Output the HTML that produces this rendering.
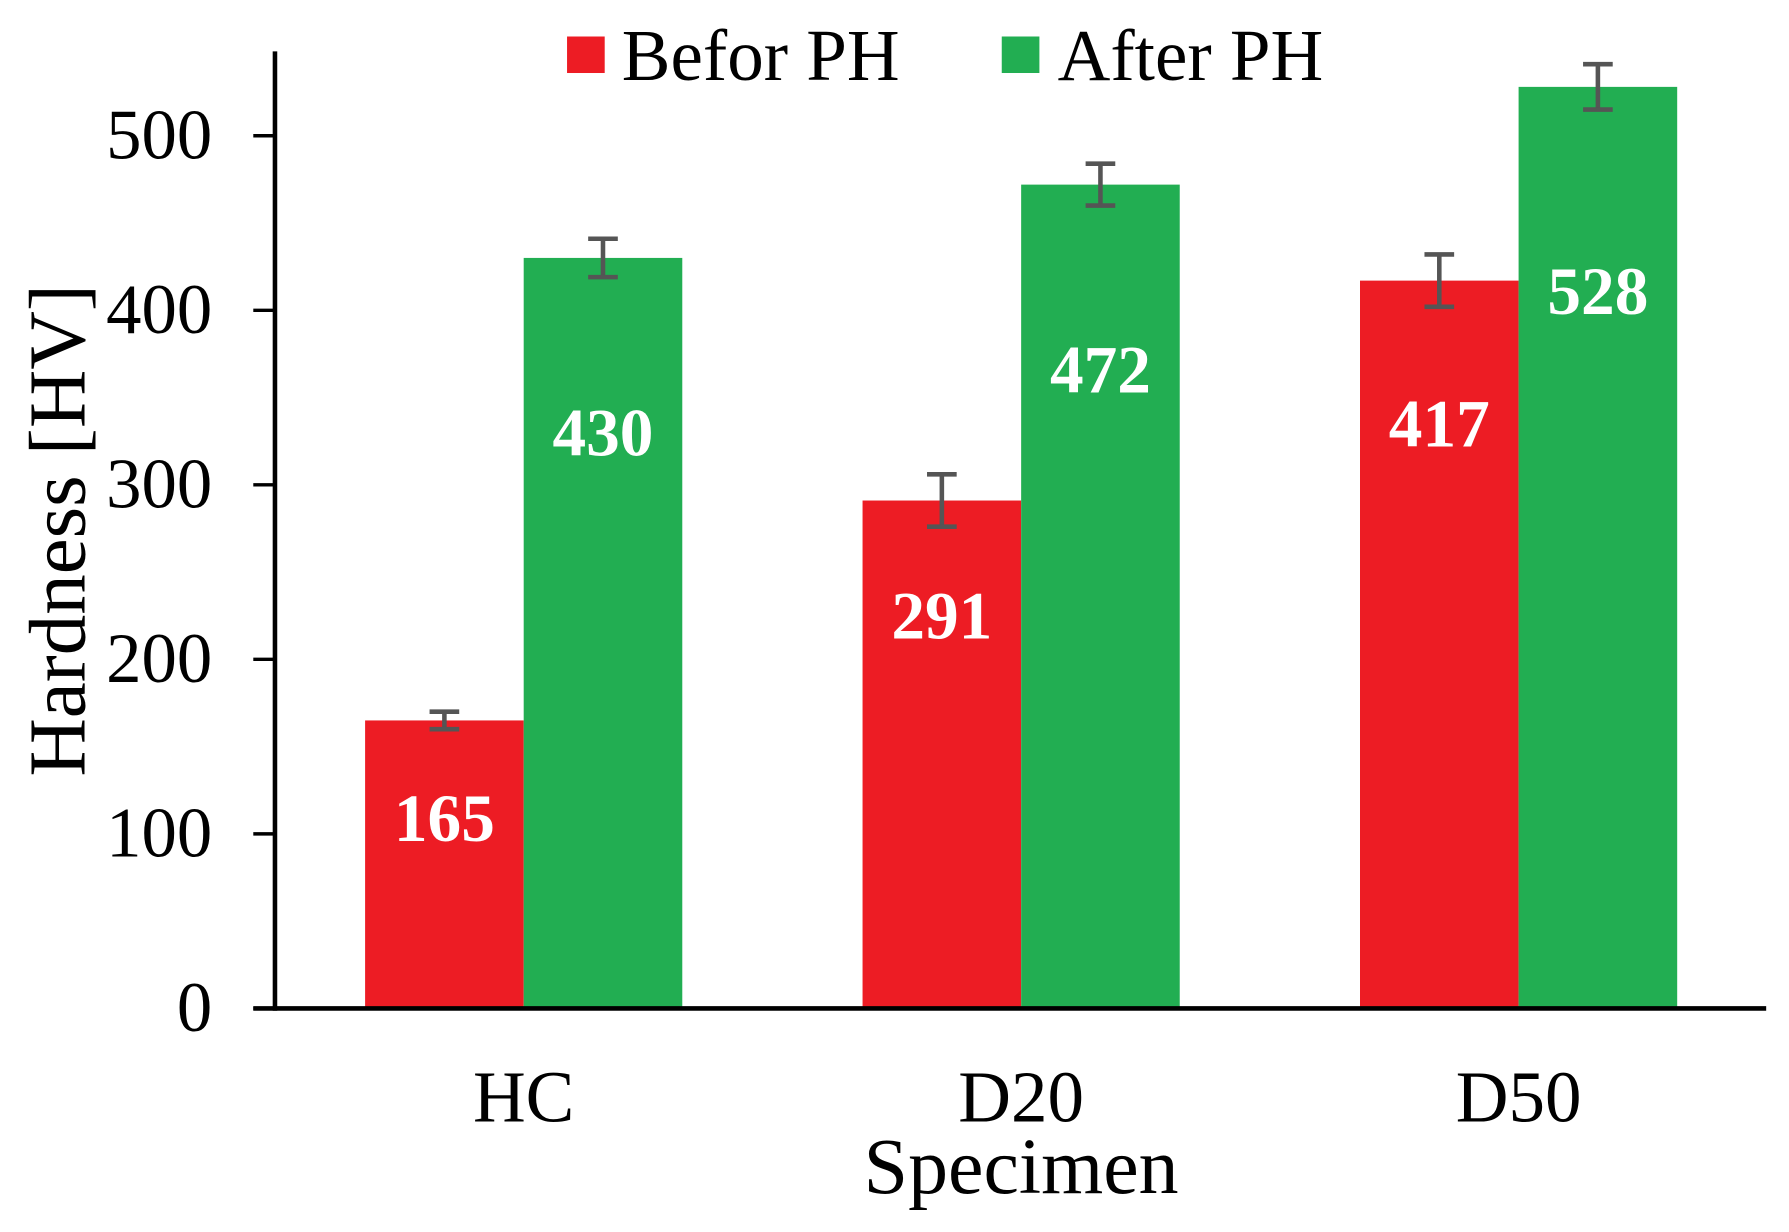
<!DOCTYPE html>
<html><head><meta charset="utf-8"><style>
html,body{margin:0;padding:0;background:#fff;}
svg{display:block;font-family:"Liberation Serif",serif;}
</style></head><body>
<svg id="chart" width="1789" height="1232" viewBox="0 0 1568 1080" preserveAspectRatio="none" xmlns="http://www.w3.org/2000/svg">
<g>
<rect x="497" y="32" width="33" height="32" fill="#ED1C24"/>
<text x="545" y="70" font-size="64">Befor PH</text>
<rect x="878" y="32" width="33" height="32" fill="#22AE52"/>
<text x="927" y="70" font-size="64">After PH</text>
</g>
<text transform="translate(74,465) rotate(-90)" text-anchor="middle" font-size="71">Hardness [HV]</text>
<text x="895" y="1046" text-anchor="middle" font-size="70">Specimen</text>
<g id="plot"></g>
</svg>
<script>
const categories = ["HC", "D20", "D50"];
const beforeValues = [165, 291, 417];
const afterValues = [430, 472, 528];
const beforeErrors = [5, 15, 15];
const afterErrors = [11, 12, 13];
const beforeLabelPos = [109, 225, 335];
const afterLabelPos = [330, 366, 411];
const yTicks = [0, 100, 200, 300, 400, 500];

const NS = "http://www.w3.org/2000/svg";
const plot = document.getElementById("plot");
const y0 = 884, pxPer = 1.53;
const yScale = v => y0 - v * pxPer;
const xCenter = i => 459 + i * 436;
const barW = 139;
function mk(tag, attrs, parent) {
  const e = document.createElementNS(NS, tag);
  for (const k in attrs) e.setAttribute(k, attrs[k]);
  (parent || plot).appendChild(e);
  return e;
}
yTicks.forEach(t => {
  const tk = mk("line", {x1: 222, x2: 241, y1: yScale(t), y2: yScale(t), stroke: "#000", "stroke-width": 3});
  
  
  const lb = mk("text", {x: 186, y: yScale(t) + 20, "text-anchor": "end", "font-size": 62});
  lb.textContent = t;
  
  
});
function bar(i, v, err, lp, side, color, name) {
  const x = side === 0 ? xCenter(i) - barW : xCenter(i);
  const r = mk("rect", {x: x, y: yScale(v), width: barW, height: v * pxPer, fill: color});
  
  
  const cx = x + barW / 2;
  const g = mk("g", {stroke: "#555", "stroke-width": 4});
  
  
  mk("line", {x1: cx, x2: cx, y1: yScale(v + err), y2: yScale(v - err)}, g);
  mk("line", {x1: cx - 13, x2: cx + 13, y1: yScale(v + err), y2: yScale(v + err)}, g);
  mk("line", {x1: cx - 13, x2: cx + 13, y1: yScale(v - err), y2: yScale(v - err)}, g);
  const t = mk("text", {x: cx, y: yScale(lp) + 20, "text-anchor": "middle", "font-size": 59, "font-weight": "bold", fill: "#fff"});
  t.textContent = v;
  
  
}
categories.forEach((c, i) => {
  bar(i, beforeValues[i], beforeErrors[i], beforeLabelPos[i], 0, "#ED1C24", "before");
  bar(i, afterValues[i], afterErrors[i], afterLabelPos[i], 1, "#22AE52", "after");
  const cl = mk("text", {x: xCenter(i), y: 983, "text-anchor": "middle", "font-size": 64});
  cl.textContent = c;
  
  
});
const ya = mk("line", {x1: 241, x2: 241, y1: 45, y2: 886, stroke: "#000", "stroke-width": 4});


const xa = mk("line", {x1: 222, x2: 1548, y1: 884, y2: 884, stroke: "#000", "stroke-width": 4});


</script>
</body></html>
